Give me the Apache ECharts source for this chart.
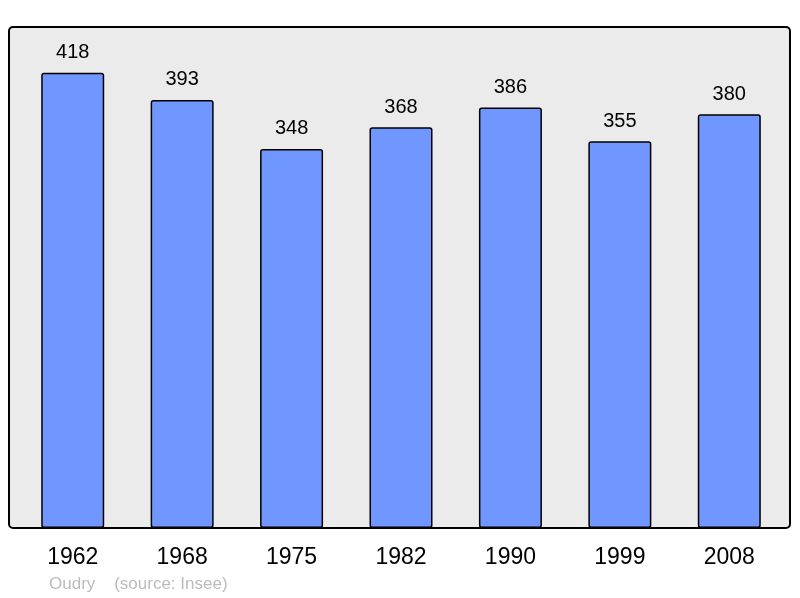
<!DOCTYPE html>
<html>
<head>
<meta charset="utf-8">
<script src="https://cdn.jsdelivr.net/npm/echarts@6/dist/echarts.min.js"></script>
<style>
  html, body { margin: 0; padding: 0; background: #fff; }
  #chart { width: 800px; height: 598px; }
</style>
</head>
<body>
<div id="chart"></div>
<script>
// 人口数据
const years = ['1962', '1968', '1975', '1982', '1990', '1999', '2008']
const population = [418, 393, 348, 368, 386, 355, 380]

const chart = echarts.init(document.getElementById('chart'))

const option = {
  animation: false,
  textStyle: { fontFamily: 'Liberation Sans, Arial, sans-serif' },
  title: {
    text: 'Oudry    (source: Insee)',
    left: 49,
    top: 576,
    padding: 0,
    textStyle: { fontSize: 17, fontWeight: 'normal', color: '#bbbbbb' }
  },
  // 灰色背景框
  graphic: [
    {
      type: 'rect',
      z: -10,
      shape: { x: 9, y: 27, width: 781, height: 501, r: 4 },
      style: { fill: '#ebebeb', stroke: '#000', lineWidth: 2 }
    }
  ],
  grid: { left: 18, width: 766, top: 27, bottom: 70 },
  xAxis: {
    type: 'category',
    data: years,
    axisLine: { show: false },
    axisTick: { show: false },
    axisLabel: { fontSize: 23, color: '#000', margin: 18 }
  },
  yAxis: {
    type: 'value',
    min: 0,
    max: 460,
    show: false,
    splitLine: { show: false }
  },
  series: [
    {
      type: 'bar',
      data: population,
      barWidth: 63,
      itemStyle: {
        color: '#7096ff',
        borderColor: '#000',
        borderWidth: 1.5,
        borderRadius: 2
      },
      label: {
        show: true,
        position: 'top',
        distance: 10,
        fontSize: 20,
        color: '#000'
      }
    }
  ]
}

chart.setOption(option)
</script>
</body>
</html>
